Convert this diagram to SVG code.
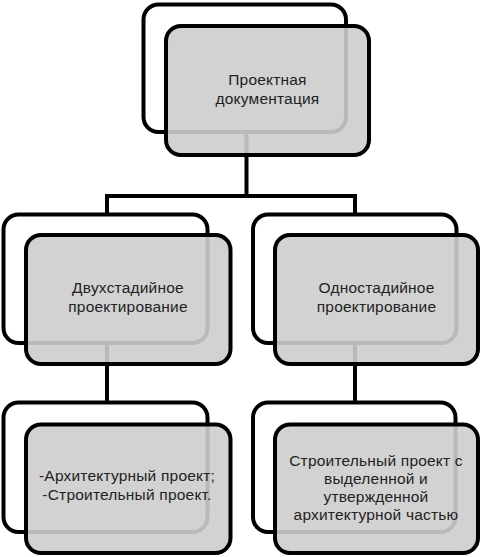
<svg xmlns="http://www.w3.org/2000/svg" width="482" height="557" viewBox="0 0 482 557">
<style>
.back{fill:#ffffff;stroke:#000;stroke-width:4}
.front{fill:#cdcdcd;fill-opacity:0.9;stroke:#000;stroke-width:4}
.conn{fill:none;stroke:#000;stroke-width:4;stroke-linejoin:miter}
text{font-family:"Liberation Sans",Arial,sans-serif;font-size:15.5px;letter-spacing:0.2px;fill:#222;text-anchor:middle}
</style>
<rect width="482" height="557" fill="#fff"/>
<g id="backs">
<rect class="back" x="143.5" y="4.5" width="202.5" height="127.5" rx="15"/>
<rect class="back" x="3.5" y="214.5" width="204" height="128.5" rx="15"/>
<rect class="back" x="253" y="214.5" width="203.5" height="128.5" rx="15"/>
<rect class="back" x="3.5" y="402.5" width="204" height="129.5" rx="15"/>
<rect class="back" x="253" y="402.5" width="202.5" height="129.5" rx="15"/>
</g>
<g id="connectors">
<path class="conn" d="M246.5,132 V196 M107,215 V196 H355 V215"/>
<path class="conn" d="M107,343 V403"/>
<path class="conn" d="M355,343 V403"/>
</g>
<g id="node-root">
<rect class="front" x="166" y="26" width="203" height="129" rx="15"/>
<text x="267.5" y="85">Проектная</text>
<text x="267.5" y="104">документация</text>
</g>
<g id="node-two-stage">
<rect class="front" x="26" y="235" width="204.5" height="129" rx="15"/>
<text x="128" y="293">Двухстадийное</text>
<text x="128" y="312">проектирование</text>
</g>
<g id="node-one-stage">
<rect class="front" x="275" y="235" width="203" height="129" rx="15"/>
<text x="376.5" y="293">Одностадийное</text>
<text x="376.5" y="312">проектирование</text>
</g>
<g id="node-two-stage-detail">
<rect class="front" x="26" y="424.5" width="204.5" height="128.5" rx="15"/>
<text x="127" y="481">-Архитектурный проект;</text>
<text x="127" y="500">-Строительный проект.</text>
</g>
<g id="node-one-stage-detail">
<rect class="front" x="275" y="424.5" width="203" height="128.5" rx="15"/>
<text x="376" y="466">Строительный проект с</text>
<text x="376" y="484">выделенной и</text>
<text x="376" y="502">утвержденной</text>
<text x="376" y="520">архитектурной частью</text>
</g>
</svg>
